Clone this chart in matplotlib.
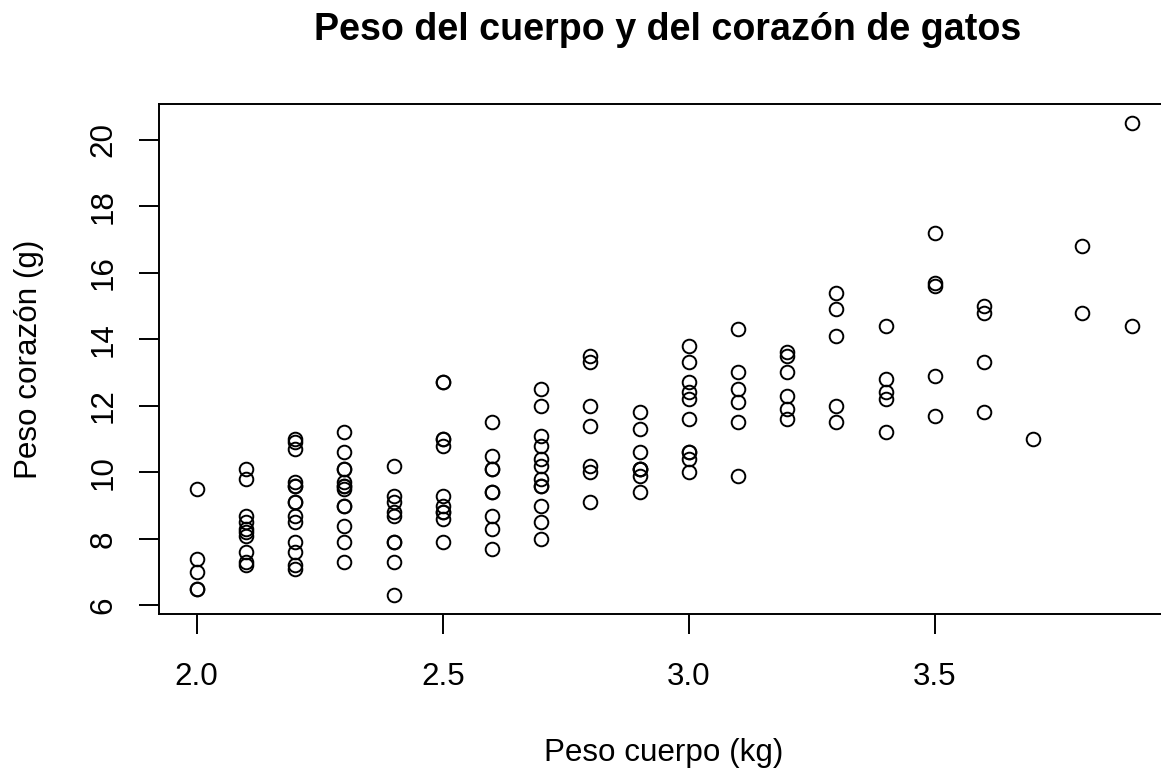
import numpy as np
import matplotlib
matplotlib.use('Agg')
import matplotlib.pyplot as plt

matplotlib.rcParams['font.family'] = ['Liberation Sans', 'DejaVu Sans']

# Peso corporal (kg) y peso del corazon (g), datos "cats"
bwt = [2.0, 2.0, 2.0, 2.1, 2.1, 2.1, 2.1, 2.1, 2.1, 2.1, 2.1, 2.1, 2.2, 2.2,
       2.2, 2.2, 2.2, 2.2, 2.3, 2.3, 2.3, 2.3, 2.3, 2.3, 2.3, 2.3, 2.3, 2.3,
       2.3, 2.3, 2.4, 2.4, 2.4, 2.4, 2.5, 2.5, 2.5, 2.6, 2.6, 2.6, 2.7, 2.7,
       2.7, 2.9, 2.9, 2.9, 3.0,
       2.0, 2.0, 2.1, 2.2, 2.2, 2.2, 2.2, 2.2, 2.2, 2.2, 2.2, 2.3, 2.4, 2.4,
       2.4, 2.4, 2.4, 2.5, 2.5, 2.5, 2.5, 2.5, 2.5, 2.5, 2.5, 2.6, 2.6, 2.6,
       2.6, 2.6, 2.6, 2.7, 2.7, 2.7, 2.7, 2.7, 2.7, 2.7, 2.7, 2.7, 2.8, 2.8,
       2.8, 2.8, 2.8, 2.8, 2.8, 2.9, 2.9, 2.9, 2.9, 2.9, 3.0, 3.0, 3.0, 3.0,
       3.0, 3.0, 3.0, 3.0, 3.0, 3.1, 3.1, 3.1, 3.1, 3.1, 3.1, 3.2, 3.2, 3.2,
       3.2, 3.2, 3.2, 3.3, 3.3, 3.3, 3.3, 3.3, 3.4, 3.4, 3.4, 3.4, 3.4, 3.5,
       3.5, 3.5, 3.5, 3.5, 3.6, 3.6, 3.6, 3.6, 3.7, 3.8, 3.8, 3.9, 3.9]
hwt = [7.0, 7.4, 9.5, 7.2, 7.3, 7.6, 8.1, 8.2, 8.3, 8.5, 8.7, 9.8, 7.1, 8.7,
       9.1, 9.7, 10.9, 11.0, 7.3, 7.9, 8.4, 9.0, 9.0, 9.5, 9.6, 9.7, 10.1,
       10.1, 10.6, 11.2, 6.3, 8.7, 8.8, 10.2, 9.0, 10.8, 11.0, 8.7, 10.1,
       10.1, 8.5, 10.2, 10.8, 9.9, 10.1, 10.1, 10.6,
       6.5, 6.5, 10.1, 7.2, 7.6, 7.9, 8.5, 9.1, 9.6, 9.6, 10.7, 9.6, 7.3,
       7.9, 7.9, 9.1, 9.3, 7.9, 8.6, 8.8, 8.8, 9.3, 11.0, 12.7, 12.7, 7.7,
       8.3, 9.4, 9.4, 10.5, 11.5, 8.0, 9.0, 9.6, 9.6, 9.8, 10.4, 11.1, 12.0,
       12.5, 9.1, 10.0, 10.2, 11.4, 12.0, 13.3, 13.5, 9.4, 10.1, 10.6, 11.3,
       11.8, 10.0, 10.4, 10.6, 11.6, 12.2, 12.4, 12.7, 13.3, 13.8, 9.9, 11.5,
       12.1, 12.5, 13.0, 14.3, 11.6, 11.9, 12.3, 13.0, 13.5, 13.6, 11.5, 12.0,
       14.1, 14.9, 15.4, 11.2, 12.2, 12.4, 12.8, 14.4, 11.7, 12.9, 15.6, 15.7,
       17.2, 11.8, 13.3, 14.8, 15.0, 11.0, 14.8, 16.8, 14.4, 20.5]

x_ticks = [2.0, 2.5, 3.0, 3.5]
y_ticks = [6, 8, 10, 12, 14, 16, 18, 20]

W, H = 1161, 768
fig = plt.figure(figsize=(W / 100, H / 100), dpi=100)
# plot region (pixels): left 159, right 1169 (beyond the canvas), top 104, bottom 614
ax = fig.add_axes([159.3 / W, 1 - 614.3 / H, 1009.8 / W, 510.3 / H])

ax.plot(bwt, hwt, linestyle='none', marker='o', markersize=9.8,
        markerfacecolor='none', markeredgecolor='black', markeredgewidth=1.4)

# R-style 4% axis expansion
xr = max(bwt) - min(bwt)
yr = max(hwt) - min(hwt)
ax.set_xlim(min(bwt) - 0.04 * xr, max(bwt) + 0.04 * xr)
ax.set_ylim(min(hwt) - 0.04 * yr, max(hwt) + 0.04 * yr)

ax.set_xticks(x_ticks)
ax.set_xticklabels([f'{v:.1f}' for v in x_ticks])
ax.set_yticks(y_ticks)
ax.set_yticklabels([str(v) for v in y_ticks], rotation=90, va='center')

for s in ax.spines.values():
    s.set_linewidth(1.4)
ax.tick_params(axis='both', length=14.2, width=1.4, labelsize=22.6, direction='out')
ax.tick_params(axis='x', pad=20)
ax.tick_params(axis='y', pad=15)

fig.text(668 / W, 1 - 39.5 / H, 'Peso del cuerpo y del corazón de gatos',
         ha='center', va='baseline', fontsize=27.1, fontweight='bold')
fig.text(664 / W, 1 - 760.7 / H, 'Peso cuerpo (kg)',
         ha='center', va='baseline', fontsize=22.6)
fig.text(36.7 / W, 1 - 359 / H, 'Peso corazón (g)', rotation=90,
         rotation_mode='anchor', ha='center', va='baseline', fontsize=22.6)

fig.savefig('out.png', dpi=100, facecolor='white')
